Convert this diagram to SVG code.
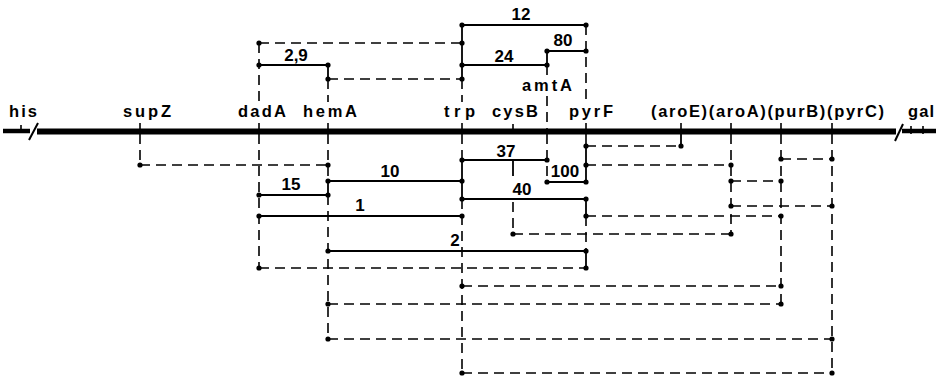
<svg xmlns="http://www.w3.org/2000/svg" width="939" height="377" viewBox="0 0 939 377">
<style>
.lbl{font-family:"Liberation Sans",Arial,sans-serif;font-size:16.5px;font-weight:bold;fill:#000}
.num{font-family:"Liberation Sans",Arial,sans-serif;font-size:17px;font-weight:bold;fill:#000;text-anchor:middle}
.s{stroke:#000;stroke-width:1.8;fill:none}
.d{stroke:#000;stroke-width:1.6;fill:none;stroke-dasharray:10 6}
.t{stroke:#000;stroke-width:1.6}
.dot{fill:#000}
</style>
<defs>
<circle id="p" r="2.6" class="dot"/>
</defs>
<rect width="939" height="377" fill="#fff"/>
<g id="chromosome">
<line x1="3" y1="131" x2="30" y2="131" stroke="#000" stroke-width="4.5"/>
<line x1="29" y1="140" x2="38" y2="123" stroke="#000" stroke-width="2"/>
<line x1="37" y1="131.5" x2="896" y2="131.5" stroke="#000" stroke-width="6"/>
<line x1="895" y1="141" x2="903" y2="124" stroke="#000" stroke-width="2"/>
<line x1="902" y1="131" x2="936" y2="131" stroke="#000" stroke-width="4.5"/>
<line x1="21" y1="125" x2="21" y2="133" class="t"/>
<line x1="911" y1="126" x2="911" y2="134" class="t"/>
<line x1="923" y1="126" x2="923" y2="134" class="t"/>
</g>
<g id="his"><text class="lbl" x="9" y="117" textLength="28" lengthAdjust="spacing">his</text></g>
<g id="supZ"><text class="lbl" x="123" y="117" textLength="48" lengthAdjust="spacing">supZ</text><line x1="140" y1="123" x2="140" y2="131" class="t"/></g>
<g id="dadA"><text class="lbl" x="238" y="117" textLength="48" lengthAdjust="spacing">dadA</text><line x1="259" y1="123" x2="259" y2="131" class="t"/></g>
<g id="hemA"><text class="lbl" x="303" y="117" textLength="54" lengthAdjust="spacing">hemA</text><line x1="328" y1="123" x2="328" y2="131" class="t"/></g>
<g id="trp"><text class="lbl" x="444" y="117" textLength="31" lengthAdjust="spacing">trp</text><line x1="462" y1="123" x2="462" y2="131" class="t"/></g>
<g id="cysB"><text class="lbl" x="492" y="117" textLength="46" lengthAdjust="spacing">cysB</text><line x1="513" y1="124" x2="513" y2="131" class="t"/></g>
<g id="amtA"><text class="lbl" x="522" y="91" textLength="50" lengthAdjust="spacing">amtA</text></g>
<g id="pyrF"><text class="lbl" x="569" y="117" textLength="44" lengthAdjust="spacing">pyrF</text><line x1="586" y1="123" x2="586" y2="131" class="t"/></g>
<g id="aroE-aroA-purB-pyrC"><text class="lbl" x="651" y="117" textLength="233" lengthAdjust="spacing">(aroE)(aroA)(purB)(pyrC)</text>
<line x1="681" y1="123" x2="681" y2="131" class="t"/><line x1="731" y1="123" x2="731" y2="131" class="t"/><line x1="781" y1="123" x2="781" y2="131" class="t"/><line x1="832" y1="123" x2="832" y2="131" class="t"/></g>
<g id="gal"><text class="lbl" x="908" y="117" textLength="26" lengthAdjust="spacing">gal</text></g>
<g id="connectors">
<path class="d" d="M259 43V102M586 25V102M462 79V102M328 79V102M547 65V76M547 96V131"/>
<path class="s" d="M462 25V79M328 65V79M547 51V65"/>
<path class="d" d="M140 134V165M259 134V268M328 134V181M328 195V339M462 134V160M462 199V373M513 202V234M547 134V182M586 134V146M586 216V251M731 134V234M781 134V304M832 134V373"/>
<path class="s" d="M328 181V195M462 160V199M513 160V176M586 146V182M586 199V216M586 251V268M681 134V146"/>
<path class="s" d="M462 25H586M547 51H586M259 65H328M462 65H547"/>
<path class="d" d="M259 43H462M328 79H462"/>
<path class="s" d="M462 160H547M328 181H462M547 182H586M259 195H328M462 199H586M259 216H462M328 251H586"/>
<path class="d" d="M140 165H328M586 146H681M781 159H832M586 165H731M731 181H781M731 206H832M586 216H781M513 234H731M259 268H586M462 286H781M328 304H781M328 339H832M462 373H832"/>
<g>
<use href="#p" x="462" y="25"/><use href="#p" x="586" y="25"/>
<use href="#p" x="259" y="43"/><use href="#p" x="462" y="43"/>
<use href="#p" x="547" y="51"/><use href="#p" x="586" y="51"/>
<use href="#p" x="259" y="65"/><use href="#p" x="328" y="65"/><use href="#p" x="462" y="65"/><use href="#p" x="547" y="65"/>
<use href="#p" x="328" y="79"/><use href="#p" x="462" y="79"/>
<use href="#p" x="586" y="146"/><use href="#p" x="681" y="146"/>
<use href="#p" x="462" y="160"/><use href="#p" x="547" y="160"/>
<use href="#p" x="781" y="159"/><use href="#p" x="832" y="159"/>
<use href="#p" x="140" y="165"/><use href="#p" x="328" y="165"/>
<use href="#p" x="586" y="165"/><use href="#p" x="731" y="165"/>
<use href="#p" x="328" y="181"/><use href="#p" x="462" y="181"/>
<use href="#p" x="547" y="182"/><use href="#p" x="586" y="182"/>
<use href="#p" x="731" y="181"/><use href="#p" x="781" y="181"/>
<use href="#p" x="259" y="195"/><use href="#p" x="328" y="195"/>
<use href="#p" x="462" y="199"/><use href="#p" x="586" y="199"/>
<use href="#p" x="731" y="206"/><use href="#p" x="832" y="206"/>
<use href="#p" x="259" y="216"/><use href="#p" x="462" y="216"/>
<use href="#p" x="586" y="216"/><use href="#p" x="781" y="216"/>
<use href="#p" x="513" y="234"/><use href="#p" x="731" y="234"/>
<use href="#p" x="328" y="251"/><use href="#p" x="586" y="251"/>
<use href="#p" x="259" y="268"/><use href="#p" x="586" y="268"/>
<use href="#p" x="462" y="286"/><use href="#p" x="781" y="286"/>
<use href="#p" x="328" y="304"/><use href="#p" x="781" y="304"/>
<use href="#p" x="328" y="339"/><use href="#p" x="832" y="339"/>
<use href="#p" x="462" y="373"/><use href="#p" x="832" y="373"/>
</g>
<text class="num" x="521" y="20">12</text>
<text class="num" x="563" y="46">80</text>
<text class="num" x="296" y="61">2,9</text>
<text class="num" x="504" y="62">24</text>
<text class="num" x="506" y="157">37</text>
<text class="num" x="390" y="177">10</text>
<text class="num" x="565" y="177">100</text>
<text class="num" x="291" y="190">15</text>
<text class="num" x="522" y="195">40</text>
<text class="num" x="360" y="211">1</text>
<text class="num" x="455" y="246">2</text>
</g>
</svg>
